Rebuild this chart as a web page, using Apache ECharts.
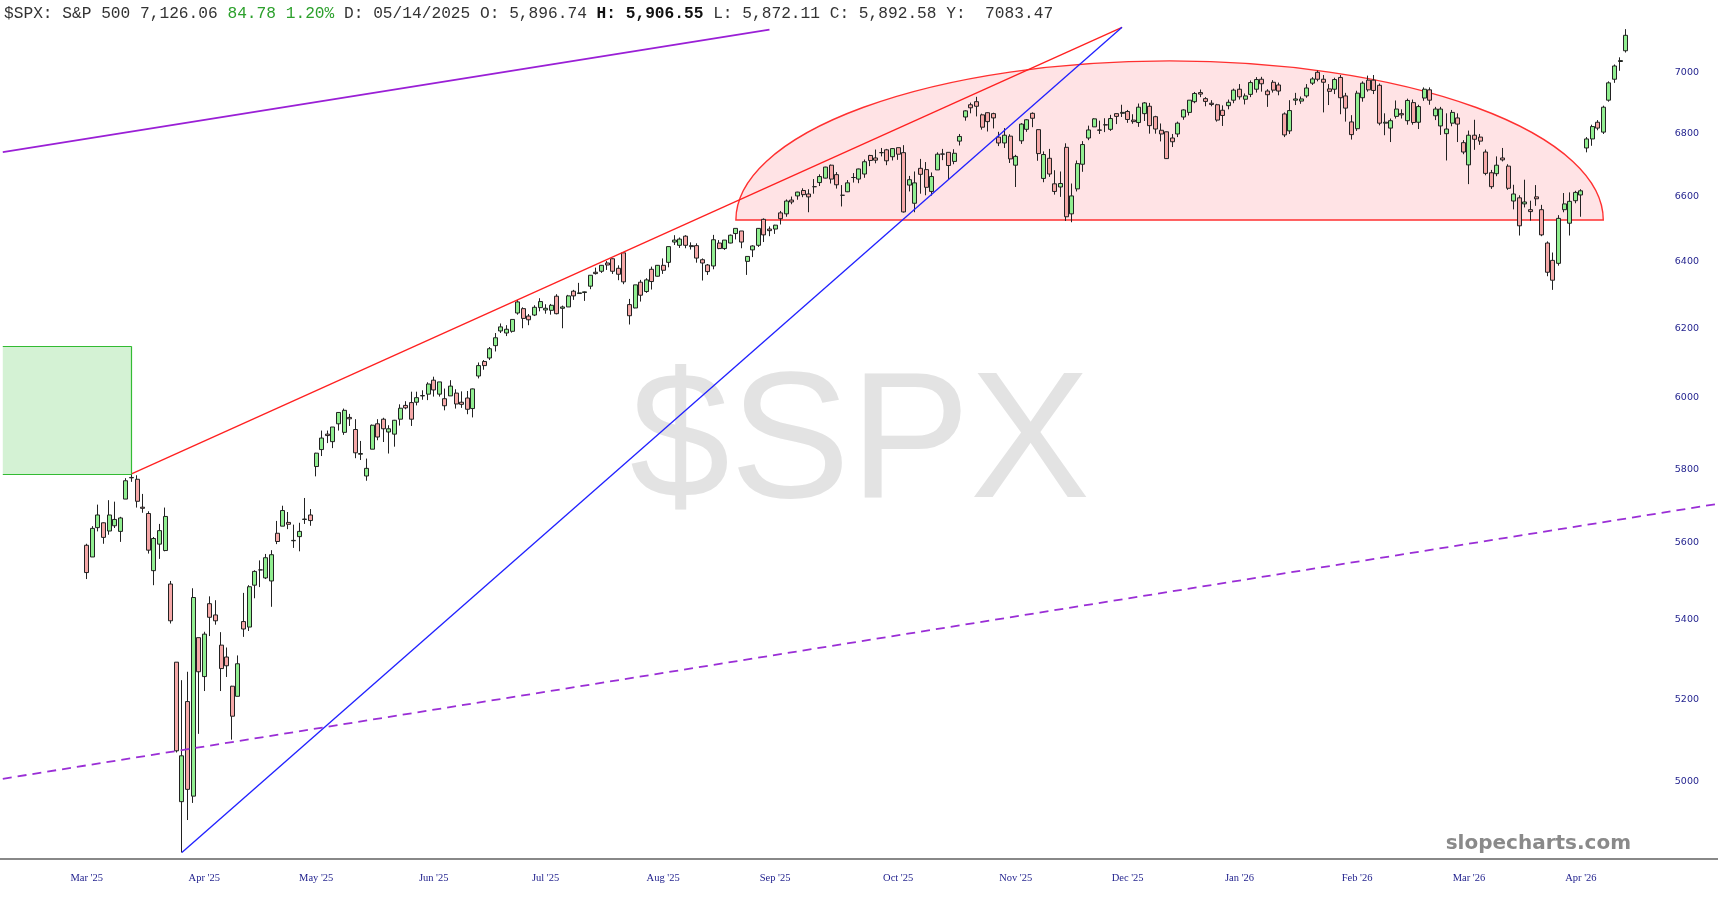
<!DOCTYPE html>
<html><head><meta charset="utf-8">
<script src="https://cdn.jsdelivr.net/npm/echarts@6/dist/echarts.min.js"></script>
<style>html,body{margin:0;padding:0;background:#fff}#chart{width:1718px;height:900px}</style>
</head><body><div id="chart"></div>
<script>
// date, open, high, low, close
const spxDaily = [
['2025-03-13',5594,5598,5505,5522],['2025-03-14',5563,5645,5563,5639],['2025-03-17',5641,5703,5631,5675],
['2025-03-18',5654,5655,5598,5615],['2025-03-19',5632,5715,5622,5675],['2025-03-20',5646,5711,5640,5663],
['2025-03-21',5631,5670,5603,5667],['2025-03-24',5718,5775,5718,5768],['2025-03-25',5776,5787,5765,5777],
['2025-03-26',5772,5783,5695,5712],['2025-03-27',5696,5732,5681,5693],['2025-03-28',5679,5685,5572,5581],
['2025-03-31',5527,5616,5489,5612],['2025-04-01',5597,5651,5558,5633],['2025-04-02',5580,5695,5578,5671],
['2025-04-03',5492,5500,5390,5397],['2025-04-04',5292,5292,5070,5074],['2025-04-07',4953,5247,4835,5062],
['2025-04-08',5194,5268,4910,4982],['2025-04-09',4966,5481,4950,5457],['2025-04-10',5354,5354,5115,5268],
['2025-04-11',5256,5369,5220,5363],['2025-04-14',5441,5460,5358,5406],['2025-04-15',5412,5450,5387,5397],
['2025-04-16',5335,5368,5220,5276],['2025-04-17',5305,5329,5255,5283],['2025-04-21',5232,5233,5101,5158],
['2025-04-22',5207,5309,5207,5288],['2025-04-23',5395,5469,5356,5376],['2025-04-24',5381,5489,5371,5485],
['2025-04-25',5489,5528,5455,5525],['2025-04-28',5529,5554,5484,5529],['2025-04-29',5508,5571,5505,5561],
['2025-04-30',5500,5581,5433,5569],['2025-05-01',5626,5659,5597,5604],['2025-05-02',5645,5700,5645,5687],
['2025-05-05',5655,5683,5637,5650],['2025-05-06',5606,5649,5587,5607],['2025-05-07',5617,5654,5578,5631],
['2025-05-08',5663,5721,5651,5664],['2025-05-09',5675,5691,5646,5660],['2025-05-12',5807,5845,5780,5844],
['2025-05-13',5854,5907,5836,5886],['2025-05-14',5897,5907,5872,5893],['2025-05-15',5876,5917,5858,5917],
['2025-05-16',5926,5959,5907,5958],['2025-05-19',5902,5969,5895,5964],['2025-05-20',5944,5954,5920,5940],
['2025-05-21',5910,5939,5830,5845],['2025-05-22',5841,5878,5825,5843],['2025-05-23',5781,5829,5768,5802],
['2025-05-27',5855,5924,5855,5922],['2025-05-28',5926,5939,5880,5889],['2025-05-29',5939,5943,5875,5912],
['2025-05-30',5903,5922,5843,5912],['2025-06-02',5897,5937,5862,5936],['2025-06-03',5939,5981,5921,5970],
['2025-06-04',5978,5990,5967,5971],['2025-06-05',5986,6017,5920,5939],['2025-06-06',5987,6017,5978,6000],
['2025-06-09',6005,6021,5994,6006],['2025-06-10',6010,6044,5993,6039],['2025-06-11',6050,6060,6003,6022],
['2025-06-12',6010,6045,6003,6045],['2025-06-13',5997,6026,5964,5977],['2025-06-16',6005,6050,6005,6033],
['2025-06-17',6013,6024,5969,5982],['2025-06-18',5987,6018,5971,5981],['2025-06-20',5999,6019,5953,5967],
['2025-06-23',5969,6026,5944,6025],['2025-06-24',6062,6101,6055,6092],['2025-06-25',6104,6108,6080,6092],
['2025-06-26',6114,6146,6108,6141],['2025-06-27',6150,6187,6133,6173],['2025-06-30',6193,6215,6187,6205],
['2025-07-01',6187,6210,6178,6198],['2025-07-02',6192,6227,6188,6227],['2025-07-03',6246,6285,6241,6279],
['2025-07-07',6259,6263,6201,6230],['2025-07-08',6237,6243,6210,6226],['2025-07-09',6240,6269,6237,6263],
['2025-07-10',6262,6290,6251,6280],['2025-07-11',6255,6272,6244,6260],['2025-07-14',6254,6273,6241,6269],
['2025-07-15',6296,6302,6242,6244],['2025-07-16',6260,6268,6201,6264],['2025-07-17',6264,6300,6264,6297],
['2025-07-18',6311,6315,6285,6297],['2025-07-21',6304,6336,6303,6306],['2025-07-22',6307,6310,6282,6309],
['2025-07-23',6326,6359,6317,6359],['2025-07-24',6368,6382,6361,6364],['2025-07-25',6371,6390,6366,6389],
['2025-07-28',6396,6402,6375,6390],['2025-07-29',6409,6410,6363,6371],['2025-07-30',6380,6389,6344,6362],
['2025-07-31',6427,6428,6332,6339],['2025-08-01',6271,6288,6212,6238],['2025-08-04',6261,6330,6260,6330],
['2025-08-05',6338,6345,6280,6299],['2025-08-06',6310,6350,6306,6345],['2025-08-07',6377,6385,6316,6340],
['2025-08-08',6356,6390,6355,6389],['2025-08-11',6389,6410,6363,6374],['2025-08-12',6398,6446,6383,6446],
['2025-08-13',6460,6481,6451,6466],['2025-08-14',6450,6474,6442,6469],['2025-08-15',6478,6481,6441,6450],
['2025-08-18',6446,6459,6437,6449],['2025-08-19',6449,6456,6397,6411],['2025-08-20',6406,6410,6343,6396],
['2025-08-21',6390,6393,6360,6370],['2025-08-22',6387,6482,6377,6467],['2025-08-25',6457,6466,6438,6440],
['2025-08-26',6440,6466,6436,6466],['2025-08-27',6457,6483,6456,6481],['2025-08-28',6486,6502,6468,6502],
['2025-08-29',6494,6494,6441,6460],['2025-09-02',6401,6416,6360,6416],['2025-09-03',6436,6450,6414,6448],
['2025-09-04',6450,6503,6445,6502],['2025-09-05',6530,6533,6460,6482],['2025-09-08',6500,6508,6478,6495],
['2025-09-09',6500,6513,6485,6512],['2025-09-10',6550,6556,6514,6532],['2025-09-11',6547,6592,6538,6587],
['2025-09-12',6590,6601,6577,6584],['2025-09-15',6603,6616,6591,6615],['2025-09-16',6620,6627,6599,6607],
['2025-09-17',6609,6624,6552,6600],['2025-09-18',6632,6656,6610,6632],['2025-09-19',6645,6671,6634,6664],
['2025-09-22',6659,6695,6658,6694],['2025-09-23',6700,6702,6642,6656],['2025-09-24',6670,6678,6626,6638],
['2025-09-25',6605,6637,6570,6605],['2025-09-26',6616,6653,6615,6644],['2025-09-29',6661,6675,6645,6661],
['2025-09-30',6656,6689,6643,6688],['2025-10-01',6672,6718,6660,6711],['2025-10-02',6731,6733,6697,6715],
['2025-10-03',6723,6750,6706,6716],['2025-10-06',6740,6755,6728,6740],['2025-10-07',6749,6752,6700,6714],
['2025-10-08',6727,6754,6715,6753],['2025-10-09',6756,6756,6717,6735],['2025-10-10',6740,6764,6551,6553],
['2025-10-13',6637,6666,6617,6654],['2025-10-14',6580,6680,6552,6644],['2025-10-15',6690,6720,6610,6671],
['2025-10-16',6686,6710,6605,6630],['2025-10-17',6617,6677,6604,6664],['2025-10-20',6685,6741,6685,6735],
['2025-10-21',6736,6752,6716,6735],['2025-10-22',6741,6741,6655,6699],['2025-10-23',6712,6751,6703,6738],
['2025-10-24',6777,6800,6763,6792],['2025-10-27',6855,6877,6843,6875],['2025-10-28',6895,6902,6867,6885],
['2025-10-29',6905,6921,6857,6890],['2025-10-30',6862,6866,6814,6822],['2025-10-31',6869,6870,6808,6840],
['2025-11-03',6866,6869,6818,6852],['2025-11-04',6790,6807,6761,6771],['2025-11-05',6771,6819,6755,6796],
['2025-11-06',6793,6799,6707,6720],['2025-11-07',6700,6733,6631,6728],['2025-11-10',6778,6835,6768,6832],
['2025-11-11',6815,6848,6807,6846],['2025-11-12',6867,6870,6822,6851],['2025-11-13',6814,6815,6714,6737],
['2025-11-14',6658,6744,6646,6734],['2025-11-17',6722,6752,6663,6672],['2025-11-18',6641,6684,6607,6617],
['2025-11-19',6631,6680,6600,6642],['2025-11-20',6757,6770,6525,6538],['2025-11-21',6547,6642,6521,6603],
['2025-11-24',6625,6715,6617,6705],['2025-11-25',6703,6777,6679,6766],['2025-11-26',6787,6827,6780,6813],
['2025-11-28',6823,6851,6823,6849],['2025-12-01',6813,6843,6800,6812],['2025-12-02',6830,6851,6806,6829],
['2025-12-03',6815,6862,6810,6850],['2025-12-04',6866,6866,6832,6857],['2025-12-05',6867,6895,6855,6870],
['2025-12-08',6873,6878,6836,6847],['2025-12-09',6845,6864,6833,6840],['2025-12-10',6837,6899,6823,6887],
['2025-12-11',6866,6904,6842,6901],['2025-12-12',6890,6901,6801,6827],['2025-12-15',6856,6859,6801,6816],
['2025-12-16',6812,6834,6776,6800],['2025-12-17',6807,6808,6720,6721],['2025-12-18',6787,6800,6758,6775],
['2025-12-19',6800,6840,6790,6835],['2025-12-22',6855,6880,6846,6878],['2025-12-23',6870,6910,6860,6910],
['2025-12-24',6905,6937,6900,6932],['2025-12-26',6935,6945,6920,6930],['2025-12-29',6915,6920,6890,6906],
['2025-12-30',6900,6910,6890,6896],['2025-12-31',6895,6898,6840,6845],
['2026-01-02',6877,6893,6826,6860],['2026-01-05',6892,6912,6880,6903],['2026-01-06',6910,6948,6900,6943],
['2026-01-07',6946,6963,6912,6921],['2026-01-08',6913,6932,6896,6924],['2026-01-09',6929,6975,6920,6968],
['2026-01-12',6946,6986,6935,6978],['2026-01-13',6979,6987,6938,6964],['2026-01-14',6940,6946,6888,6928],
['2026-01-15',6969,6976,6935,6943],['2026-01-16',6960,6968,6926,6940],['2026-01-20',6865,6870,6790,6797],
['2026-01-21',6810,6910,6800,6876],['2026-01-22',6910,6934,6894,6914],['2026-01-23',6907,6922,6898,6914],
['2026-01-26',6924,6963,6918,6950],['2026-01-27',6966,6986,6960,6980],['2026-01-28',7002,7008,6972,6979],
['2026-01-29',6979,6993,6870,6969],['2026-01-30',6947,6963,6894,6939],
['2026-02-02',6946,6984,6930,6978],['2026-02-03',6985,6993,6864,6918],['2026-02-04',6924,6934,6840,6884],
['2026-02-05',6839,6861,6782,6798],['2026-02-06',6817,6941,6810,6933],['2026-02-09',6918,6972,6905,6966],
['2026-02-10',6976,6991,6938,6944],['2026-02-11',6976,6993,6930,6942],['2026-02-12',6959,6965,6828,6835],
['2026-02-13',6835,6867,6796,6838],['2026-02-17',6819,6850,6774,6843],['2026-02-18',6857,6909,6850,6881],
['2026-02-19',6866,6880,6850,6862],['2026-02-20',6843,6915,6830,6909],['2026-02-23',6902,6912,6830,6837],
['2026-02-24',6838,6895,6816,6889],['2026-02-25',6917,6952,6908,6946],['2026-02-26',6944,6952,6895,6910],
['2026-02-27',6859,6888,6845,6881],
['2026-03-02',6826,6888,6797,6881],['2026-03-03',6801,6867,6715,6816],['2026-03-04',6835,6878,6825,6870],
['2026-03-05',6852,6867,6774,6832],['2026-03-06',6772,6780,6735,6742],['2026-03-09',6701,6811,6640,6796],
['2026-03-10',6796,6846,6749,6783],['2026-03-11',6790,6800,6765,6777],['2026-03-12',6742,6750,6668,6674],
['2026-03-13',6676,6685,6625,6632],['2026-03-16',6673,6728,6665,6700],['2026-03-17',6723,6755,6712,6717],
['2026-03-18',6697,6703,6622,6627],['2026-03-19',6587,6638,6561,6609],['2026-03-20',6597,6605,6480,6510],
['2026-03-23',6578,6654,6567,6584],['2026-03-24',6560,6588,6526,6554],['2026-03-25',6600,6637,6572,6594],
['2026-03-26',6560,6575,6478,6482],['2026-03-27',6457,6462,6356,6368],['2026-03-30',6404,6428,6315,6344],
['2026-03-31',6395,6543,6388,6533],
['2026-04-01',6560,6612,6552,6578],['2026-04-02',6518,6614,6480,6586],['2026-04-06',6588,6619,6580,6614],
['2026-04-07',6606,6624,6538,6619],['2026-04-08',6755,6790,6741,6784],['2026-04-09',6784,6830,6762,6824],
['2026-04-10',6838,6845,6812,6819],['2026-04-13',6806,6892,6800,6887],['2026-04-14',6910,6972,6905,6967],
['2026-04-15',6979,7028,6967,7023],['2026-04-16',7038,7052,7007,7041],['2026-04-17',7074,7147,7068,7126]
];

const priceTicks = [5000, 5200, 5400, 5600, 5800, 6000, 6200, 6400, 6600, 6800, 7000];
const monthTicks = [
  ['2025-03-13', "Mar '25"], ['2025-04-11', "Apr '25"], ['2025-05-12', "May '25"], ['2025-06-11', "Jun '25"],
  ['2025-07-11', "Jul '25"], ['2025-08-11', "Aug '25"], ['2025-09-09', "Sep '25"], ['2025-10-09', "Oct '25"],
  ['2025-11-07', "Nov '25"], ['2025-12-08', "Dec '25"], ['2026-01-07', "Jan '26"], ['2026-02-06', "Feb '26"],
  ['2026-03-09', "Mar '26"], ['2026-04-07', "Apr '26"]
];
// drawings: [date, price] endpoints ('start' / 'end' = chart edges)
const purpleSolidLine = [['start', 6742], ['2025-09-08', 7145]];
const redTrendLine = [['2025-03-25', 5787], ['2025-12-05', 7153]];
const blueTrendLine = [['2025-04-07', 4835], ['2025-12-05', 7153]];
const purpleDashedLine = [['start', 5007], ['end', 5704]];
const greenBox = [['start', 6148], ['2025-03-25', 5786]];
const roundingTop = [['2025-08-28', 6528], ['2026-04-13', 6528], 7040]; // left, right, peak
const headerParts = ['$SPX: S&P 500 7,126.06 ', '84.78 1.20%', ' D: 05/14/2025 O: 5,896.74 ', 'H: 5,906.55', ' L: 5,872.11 C: 5,892.58 Y:  7083.47'];

const PAD_BEFORE = 15, PAD_AFTER = 16;
const cats = [];
for (let i = 0; i < PAD_BEFORE; i++) cats.push('_b' + i);
spxDaily.forEach(r => cats.push(r[0]));
for (let i = 0; i < PAD_AFTER; i++) cats.push('_a' + i);
const idxOf = d => d === 'start' ? 0 : d === 'end' ? cats.length - 1 : cats.indexOf(d);
const L = Math.log;
const pt = (p) => ({ coord: [idxOf(p[0]), L(p[1])] });

const candleData = [];
for (let i = 0; i < PAD_BEFORE; i++) candleData.push('-');
spxDaily.forEach(r => candleData.push([L(r[1]), L(r[4]), L(r[3]), L(r[2])]));
for (let i = 0; i < PAD_AFTER; i++) candleData.push('-');

const labelMap = {};
monthTicks.forEach(m => labelMap[m[0]] = m[1]);

const seg = (a, b, style) => [Object.assign(pt(a), { lineStyle: style }), pt(b)];

const chart = echarts.init(document.getElementById('chart'), null, { renderer: 'canvas' });
chart.setOption({
  animation: false,
  backgroundColor: '#fff',
  grid: { left: -1.4, right: -1.4, top: 0, bottom: 41 },
  xAxis: {
    type: 'category', data: cats, boundaryGap: true,
    axisLine: { show: true, lineStyle: { color: '#888', width: 2 } },
    axisTick: { show: false },
    splitLine: { show: false },
    axisLabel: {
      interval: (i, v) => labelMap[v] !== undefined,
      formatter: v => labelMap[v] || '',
      color: '#1e1e8c', fontFamily: 'Liberation Serif', fontSize: 10.5, margin: 14
    }
  },
  yAxis: {
    type: 'value', position: 'right',
    min: L(4820), max: L(7246.5),
    axisLine: { show: false }, axisTick: { show: false }, splitLine: { show: false },
    axisLabel: {
      inside: true, margin: 19,
      customValues: priceTicks.map(v => L(v)),
      formatter: v => String(Math.round(Math.exp(v))),
      color: '#1e1e8c', fontFamily: 'DejaVu Sans', fontSize: 9.5
    }
  },
  graphic: [
    { type: 'text', x: 860, y: 447, z: -10, silent: true,
      style: { text: '$SPX', fill: '#e3e3e3', font: '180px "Liberation Sans"', align: 'center', verticalAlign: 'middle' } },
    { type: 'text', x: 1631, y: 844, z: 50, silent: true,
      style: { text: 'slopecharts.com', fill: '#8a8a8a', font: 'bold 20px "DejaVu Sans"', align: 'right', verticalAlign: 'middle' } },
    { type: 'text', x: 4, y: 14, z: 50, silent: true,
      style: {
        text: '{n|' + headerParts[0] + '}{g|' + headerParts[1] + '}{n|' + headerParts[2] + '}{b|' + headerParts[3] + '}{n|' + headerParts[4] + '}',
        verticalAlign: 'middle',
        rich: {
          n: { fill: '#333', font: '16.2px "Liberation Mono"' },
          g: { fill: '#2ca02c', font: '16.2px "Liberation Mono"' },
          b: { fill: '#111', font: 'bold 16.2px "Liberation Mono"' }
        }
      } }
  ],
  series: [
    {
      type: 'custom', z: 1, silent: true, clip: false,
      encode: { x: [0, 1], y: [2, 3] },
      data: [[idxOf(roundingTop[0][0]), idxOf(roundingTop[1][0]), L(roundingTop[0][1]), L(roundingTop[2])]],
      renderItem: (params, api) => {
        const l = api.coord([api.value(0), api.value(2)]);
        const r = api.coord([api.value(1), api.value(2)]);
        const t = api.coord([(api.value(0) + api.value(1)) / 2, api.value(3)]);
        const rx = (r[0] - l[0]) / 2, ry = l[1] - t[1];
        return {
          type: 'path',
          shape: { pathData: 'M' + l[0] + ' ' + l[1] + ' A' + rx + ' ' + ry + ' 0 0 1 ' + r[0] + ' ' + r[1] + ' Z' },
          style: { fill: 'rgba(255,60,70,0.14)', stroke: '#ff3030', lineWidth: 1.4 }
        };
      }
    },
    {
      type: 'candlestick', z: 3, data: candleData, barWidth: 4.5,
      itemStyle: { color: '#90ee90', color0: '#f6a8a8', borderColor: '#222', borderColor0: '#222', borderWidth: 1 },
      markArea: {
        silent: true,
        itemStyle: { color: 'rgba(40,190,40,0.2)', borderWidth: 0 },
        data: [[pt(greenBox[0]), pt(greenBox[1])]]
      },
      markLine: {
        silent: true, symbol: ['none', 'none'], label: { show: false },
        data: [
          seg(purpleSolidLine[0], purpleSolidLine[1], { color: '#9a1fd6', width: 1.8, type: 'solid' }),
          seg(redTrendLine[0], redTrendLine[1], { color: '#ff2020', width: 1.3, type: 'solid' }),
          seg(blueTrendLine[0], blueTrendLine[1], { color: '#2020ff', width: 1.3, type: 'solid' }),
          seg(purpleDashedLine[0], purpleDashedLine[1], { color: '#9a2ed6', width: 1.8, type: [9, 6] }),
          seg(['start', greenBox[0][1]], [greenBox[1][0], greenBox[0][1]], { color: '#33bb33', width: 1.2, type: 'solid' }),
          seg(['start', greenBox[1][1]], [greenBox[1][0], greenBox[1][1]], { color: '#33bb33', width: 1.2, type: 'solid' }),
          seg([greenBox[1][0], greenBox[0][1]], [greenBox[1][0], greenBox[1][1]], { color: '#33bb33', width: 1.2, type: 'solid' })
        ]
      }
    }
  ]
});
</script>
</body></html>
